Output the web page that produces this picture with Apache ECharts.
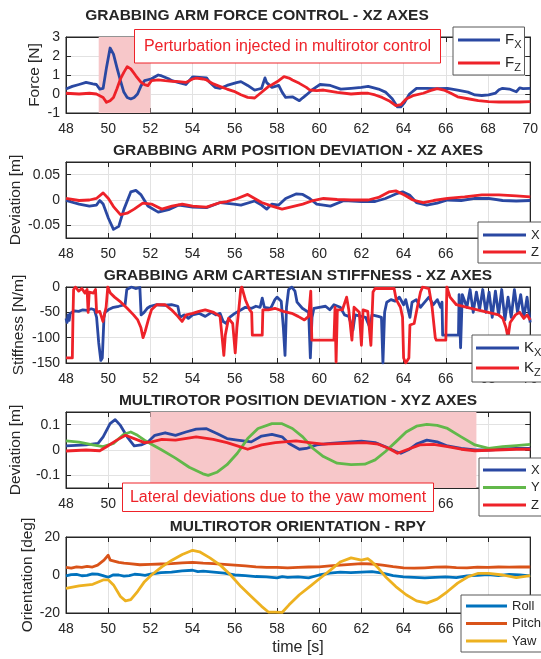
<!DOCTYPE html>
<html>
<head>
<meta charset="utf-8">
<script src="https://cdn.jsdelivr.net/npm/echarts@6/dist/echarts.min.js"></script>
<style>
  html, body { margin: 0; padding: 0; background: #ffffff; }
  #chart { width: 541px; height: 659px; }
</style>
</head>
<body>
<div id="chart"></div>
<script>
// ---- time axis (shared by all five panels) ----
const timeMin = 48;
const timeMax = 70;
const timeStep = 2;

// ---- panel 1: grabbing arm force [N] ----
const forceX = [[48.0,0.26],[48.3,0.4],[48.62,0.5],[48.95,0.61],[49.27,0.53],[49.44,0.5],[49.6,0.26],[49.76,0.3],[49.92,1.4],[50.09,2.42],[50.25,2.1],[50.41,1.4],[50.58,0.7],[50.74,0.1],[50.9,-0.18],[51.07,-0.26],[51.23,-0.18],[51.39,0],[51.56,0.44],[51.72,0.7],[51.88,0.75],[52.05,0.8],[52.37,1.0],[52.54,0.95],[52.86,0.8],[53.02,0.7],[53.35,0.6],[53.68,0.5],[54.0,0.9],[54.33,0.88],[54.66,0.85],[54.82,0.6],[55.06,0.35],[55.31,0.3],[55.63,0.45],[56.08,0.6],[56.29,0.65],[56.61,0.45],[56.94,0.2],[57.1,0.25],[57.27,0.3],[57.43,0.85],[57.51,0.6],[57.76,0.35],[58.08,0.45],[58.24,0.1],[58.41,-0.18],[58.73,-0.15],[59.06,-0.35],[59.22,-0.2],[59.39,-0.05],[59.71,0.26],[60.04,0.5],[60.53,0.45],[61.02,0.26],[61.51,0.3],[62.0,0.35],[62.32,0.4],[62.81,0.26],[63.14,0.1],[63.46,-0.25],[63.71,-0.68],[63.87,-0.68],[64.04,-0.45],[64.28,0],[64.61,0.3],[65.1,0.3],[65.59,0.28],[66.08,0.3],[66.56,0.2],[67.05,0.1],[67.38,-0.05],[67.71,-0.08],[68.03,-0.05],[68.36,0.05],[68.52,0.22],[68.69,0.3],[69.01,0.26],[69.34,0.12],[69.5,0.32],[69.66,0.28],[70.0,0.3]];
const forceZ = [[48.0,0.04],[48.62,0],[49.11,0.04],[49.44,0],[49.6,-0.09],[49.76,-0.18],[49.92,-0.44],[50.09,-0.35],[50.25,-0.18],[50.41,0.26],[50.58,0.79],[50.74,1.14],[50.9,1.44],[51.07,1.32],[51.31,0.96],[51.56,0.61],[51.72,0.49],[51.88,0.44],[52.05,0.7],[52.37,0.74],[52.7,0.7],[53.02,0.67],[53.35,0.65],[53.68,0.61],[54.0,0.79],[54.17,0.84],[54.49,0.79],[54.66,0.74],[54.98,0.53],[55.31,0.39],[55.63,0.26],[55.96,0.14],[56.29,-0.04],[56.61,-0.18],[56.94,-0.21],[57.27,0.09],[57.59,0.39],[57.76,0.49],[58.08,0.7],[58.33,0.91],[58.57,0.84],[58.73,0.74],[59.06,0.56],[59.39,0.35],[59.55,0.21],[59.88,0.18],[60.2,0.21],[60.85,0.09],[61.51,0],[62.0,0.04],[62.32,0.04],[62.65,-0.05],[62.98,-0.18],[63.3,-0.35],[63.63,-0.61],[63.87,-0.56],[64.12,-0.26],[64.44,-0.09],[64.93,0.04],[65.26,0.18],[65.59,0.28],[65.91,0.21],[66.24,0.04],[66.56,-0.15],[67.05,-0.25],[67.54,-0.35],[68.03,-0.4],[68.52,-0.42],[69.01,-0.42],[69.5,-0.42],[70.0,-0.4]];

// ---- panel 2: grabbing arm position deviation [m] ----
const armDevX = [[48.0,-0.001],[48.62,-0.008],[49.11,-0.012],[49.44,-0.01],[49.6,-0.001],[49.76,-0.008],[50.01,-0.036],[50.25,-0.058],[50.5,-0.052],[50.74,-0.019],[51.07,0.016],[51.31,0.019],[51.56,0.01],[51.88,-0.012],[52.37,-0.024],[52.86,-0.019],[53.35,-0.01],[54.0,-0.014],[54.66,-0.015],[55.31,-0.005],[55.96,-0.008],[56.29,-0.01],[56.94,-0.002],[57.27,-0.01],[57.51,-0.018],[57.76,-0.008],[58.08,-0.01],[58.41,0.003],[58.9,0.012],[59.22,0.011],[59.55,0.003],[59.88,-0.008],[60.53,-0.012],[61.18,-0.001],[62.0,-0.003],[62.65,-0.003],[63.14,0.003],[63.63,0.012],[63.95,0.016],[64.28,0.01],[64.61,-0.005],[65.1,-0.01],[65.59,-0.006],[66.08,0],[66.73,-0.001],[67.38,0.003],[68.03,0.003],[68.69,-0.001],[69.34,-0.002],[70.0,-0.001]];
const armDevZ = [[48.0,0.003],[48.62,-0.001],[49.11,0],[49.44,0.003],[49.76,0.014],[50.01,0.003],[50.25,-0.013],[50.58,-0.029],[50.9,-0.026],[51.23,-0.018],[51.64,-0.006],[52.05,-0.008],[52.54,-0.018],[53.02,-0.012],[53.51,-0.008],[54.0,-0.012],[54.66,-0.014],[55.31,-0.005],[55.63,-0.003],[56.12,0.003],[56.61,0.011],[56.94,0.003],[57.27,-0.005],[57.76,-0.012],[58.24,-0.018],[58.73,-0.013],[59.22,-0.008],[59.71,-0.001],[60.2,0.003],[60.85,0.001],[61.51,0],[62.32,0],[62.81,0.005],[63.3,0.016],[63.63,0.018],[64.04,0.01],[64.44,0],[64.93,-0.005],[65.42,-0.001],[66.08,0.003],[66.89,0.006],[67.71,0.01],[68.52,0.01],[69.34,0.008],[70.0,0.006]];

// ---- panel 3: grabbing arm Cartesian stiffness [N/m] ----
const stiffX = [[48.0,-62],[48.05,-70],[48.1,-55],[48.15,-66],[48.2,-52],[48.4,-47],[48.6,-48],[48.8,-45],[49.0,-46],[49.2,-43],[49.35,-45],[49.45,-60],[49.55,-110],[49.65,-145],[49.72,-140],[49.8,-60],[49.85,-50],[50.0,-45],[50.25,-40],[50.5,-38],[50.8,-35],[50.88,-5],[50.95,-2],[51.1,0],[51.3,-3],[51.5,-1],[51.56,-55],[51.7,-50],[51.85,-42],[52.0,-38],[52.3,-35],[52.7,-36],[53.0,-35],[53.3,-38],[53.4,-60],[53.6,-55],[53.8,-62],[54.0,-55],[54.3,-52],[54.6,-58],[54.9,-50],[55.1,-55],[55.3,-52],[55.45,-68],[55.6,-72],[55.75,-60],[56.0,-52],[56.3,-45],[56.5,-40],[56.8,-42],[57.0,-38],[57.2,-40],[57.3,-22],[57.4,-40],[57.7,-42],[57.9,-25],[58.0,-20],[58.2,-28],[58.3,-80],[58.38,-135],[58.45,-40],[58.55,-5],[58.7,0],[58.85,-8],[58.95,-30],[59.2,-42],[59.5,-50],[59.58,-140],[59.66,-60],[59.75,-42],[60.0,-40],[60.3,-38],[60.5,-45],[60.7,-35],[61.0,-40],[61.2,-55],[61.4,-58],[61.6,-85],[61.7,-55],[62.0,-58],[62.2,-60],[62.4,-80],[62.5,-55],[62.8,-58],[62.95,-60],[63.02,-150],[63.1,-50],[63.2,-30],[63.4,-25],[63.6,-28],[63.8,-20],[64.0,-35],[64.1,-25],[64.3,-60],[64.4,-30],[64.6,-25],[64.8,-40],[65.0,-30],[65.2,-20],[65.4,-35],[65.6,-25],[65.75,-40],[65.82,-30],[65.85,-95],[66.6,-95],[66.63,-15],[66.7,-120],[66.78,-15],[67.0,-40],[67.15,-5],[67.3,-50],[67.45,-10],[67.6,-45],[67.75,-5],[67.9,-50],[68.05,-10],[68.2,-60],[68.35,-8],[68.5,-55],[68.65,-5],[68.8,-65],[68.95,-20],[69.1,-60],[69.25,-5],[69.4,-50],[69.55,-15],[69.7,-60],[69.85,-20],[70.0,-70]];
const stiffZ = [[48.0,-140],[48.3,-140],[48.33,-60],[48.36,-5],[48.45,0],[48.6,-8],[48.75,-3],[48.9,-12],[49.0,-5],[49.05,-50],[49.1,-10],[49.3,-12],[49.4,-5],[49.45,-50],[49.6,-48],[49.75,-68],[49.9,-40],[49.98,0],[50.1,-12],[50.3,-20],[50.6,-30],[50.9,-42],[51.2,-55],[51.4,-65],[51.55,-80],[51.65,-100],[51.75,-88],[51.9,-65],[52.05,-45],[52.3,-35],[52.7,-35],[53.0,-45],[53.3,-58],[53.5,-68],[53.7,-55],[54.0,-52],[54.3,-48],[54.6,-45],[55.0,-50],[55.3,-58],[55.4,-100],[55.48,-135],[55.55,-95],[55.7,-62],[55.9,-72],[56.02,-130],[56.1,-80],[56.2,-40],[56.28,-5],[56.33,0],[56.5,-25],[56.7,-45],[56.8,-50],[56.83,-95],[57.3,-95],[57.33,-45],[57.6,-45],[57.9,-42],[58.3,-48],[58.7,-52],[59.0,-58],[59.3,-65],[59.5,-58],[59.6,-8],[59.65,-105],[60.7,-105],[60.75,-40],[60.8,-148],[60.86,-45],[61.1,-45],[61.3,-20],[61.4,-45],[61.55,-105],[61.65,-40],[61.9,-50],[62.0,-115],[62.08,-45],[62.3,-48],[62.45,-115],[62.55,-10],[62.65,-3],[63.55,-3],[63.65,-25],[63.85,-40],[63.95,-60],[64.0,-140],[64.1,-150],[64.25,-140],[64.3,-75],[64.5,-72],[64.65,-40],[64.8,-10],[64.9,0],[65.2,-3],[65.35,-40],[65.5,-100],[65.55,-105],[66.0,-105],[66.05,0],[66.2,-20],[66.5,-35],[67.0,-40],[67.5,-45],[68.0,-50],[68.5,-55],[68.7,-62],[68.85,-80],[68.95,-100],[69.05,-70],[69.3,-55],[69.5,-50],[69.7,-62],[69.85,-55],[70.0,-65]];

// ---- panel 4: multirotor position deviation [m] ----
const droneX = [[48.0,0.016],[48.95,0.02],[49.52,0.026],[49.76,0.052],[50.09,0.104],[50.33,0.12],[50.58,0.097],[50.9,0.052],[51.23,0.016],[51.56,0.02],[51.88,0.032],[52.21,0.058],[52.7,0.068],[53.19,0.058],[53.68,0.071],[54.17,0.082],[54.66,0.084],[55.15,0.065],[55.63,0.045],[56.12,0.039],[56.78,0.032],[57.27,0.055],[57.76,0.062],[58.24,0.052],[58.57,0.026],[59.06,0.003],[59.39,0.006],[59.88,0.02],[60.53,0.026],[61.18,0.03],[62.0,0.035],[62.65,0.029],[63.14,0.013],[63.63,-0.006],[63.87,-0.013],[64.28,0.003],[64.61,0.023],[65.1,0.039],[65.59,0.032],[66.08,0.016],[66.73,0.006],[67.38,0],[68.03,0],[68.69,0.004],[69.34,0.006],[70.0,0.006]];
const droneY = [[48.0,0.036],[48.62,0.031],[49.27,0.02],[49.76,0.013],[50.25,0.026],[50.74,0.062],[51.07,0.071],[51.39,0.058],[51.72,0.039],[52.05,0.023],[52.54,0],[53.19,-0.032],[53.84,-0.068],[54.49,-0.094],[54.74,-0.1],[55.15,-0.088],[55.63,-0.058],[56.12,-0.013],[56.61,0.045],[57.1,0.085],[57.76,0.104],[58.24,0.104],[58.73,0.085],[59.22,0.052],[59.71,0.006],[60.2,-0.026],[60.85,-0.052],[61.51,-0.058],[62.16,-0.056],[62.65,-0.039],[63.14,-0.006],[63.63,0.032],[64.12,0.071],[64.61,0.094],[65.1,0.101],[65.59,0.097],[66.08,0.085],[66.73,0.052],[67.38,0.02],[68.03,0.006],[68.69,0.013],[69.34,0.017],[70.0,0.022]];
const droneZ = [[48.0,-0.004],[48.95,0],[49.6,-0.003],[49.92,0.013],[50.41,0.039],[50.82,0.058],[51.23,0.045],[51.72,0.029],[52.05,0.032],[52.54,0.042],[53.19,0.039],[54.17,0.052],[54.98,0.042],[55.63,0.029],[56.12,0.016],[56.61,0.003],[57.27,0.02],[57.92,0.029],[58.9,0.036],[59.55,0.029],[60.2,0.023],[61.18,0.026],[62.16,0.029],[62.81,0.023],[63.3,0.006],[63.71,-0.013],[64.12,0],[64.77,0.02],[65.42,0.022],[66.08,0.013],[66.73,0.003],[67.38,-0.003],[68.36,0],[69.34,0.003],[70.0,0.003]];

// ---- panel 5: multirotor orientation [deg] ----
const roll = [[48.0,-0.5],[48.25,0.2],[48.5,0.3],[48.75,-0.4],[49.0,-0.2],[49.25,0.6],[49.5,0.5],[49.75,-0.3],[50.0,-1.2],[50.25,0.1],[50.5,0],[50.75,-0.6],[51.0,-0.3],[51.25,0.4],[51.5,0.2],[51.75,-0.2],[52.0,0.5],[52.5,1.2],[53.0,1.5],[53.5,2.2],[54.0,2.5],[54.25,1.8],[54.5,2.0],[55.0,1.5],[55.5,1.0],[56.0,0],[56.5,-0.3],[57.0,-0.8],[57.5,-1.0],[58.0,-1.5],[58.25,-0.9],[58.5,-1.2],[59.0,-1.0],[59.5,-1.5],[60.0,0],[60.5,1.0],[61.0,1.5],[61.5,1.2],[62.0,1.5],[62.5,1.8],[63.0,1.0],[63.5,-0.3],[64.0,-1.0],[64.5,-1.3],[65.0,-1.5],[65.5,-1.2],[66.0,-1.0],[66.5,-1.4],[67.0,-0.5],[67.5,-0.2],[68.0,0.2],[68.5,-0.3],[69.0,0.3],[69.5,0],[70.0,-0.5]];
const pitch = [[48.0,4.0],[48.25,3.6],[48.5,4.3],[48.75,4.0],[49.0,4.5],[49.25,4.2],[49.5,5.2],[49.8,7.8],[50.0,10.4],[50.1,7.8],[50.5,6.6],[50.75,6.2],[51.0,6.0],[51.5,5.4],[52.0,5.6],[52.5,5.8],[53.0,6.0],[53.5,6.4],[54.0,6.6],[54.5,6.2],[55.0,6.0],[55.5,5.6],[56.0,5.2],[56.5,4.8],[57.0,4.3],[57.5,4.0],[58.0,4.0],[58.5,3.7],[59.0,4.0],[59.5,4.2],[60.0,4.3],[60.5,4.8],[61.0,5.2],[61.5,5.6],[62.0,6.0],[62.5,5.8],[63.0,5.2],[63.5,4.4],[64.0,3.8],[64.5,3.6],[65.0,3.8],[65.5,4.1],[66.0,4.3],[66.5,3.9],[67.0,3.8],[67.5,4.1],[68.0,4.0],[68.5,4.2],[69.0,4.1],[69.5,4.3],[70.0,4.2]];
const yaw = [[48.0,-7.0],[48.62,-5.7],[49.27,-4.9],[49.76,-2.6],[50.01,-2.6],[50.25,-5.2],[50.58,-11.3],[50.82,-13.6],[51.07,-13.0],[51.39,-8.7],[51.72,-3.5],[52.05,0],[52.54,4.3],[53.02,7.8],[53.51,10.8],[54.0,13.0],[54.33,12.2],[54.82,9.0],[55.31,5.2],[55.8,0],[56.29,-6.1],[56.78,-11.3],[57.27,-16.5],[57.59,-19.5],[57.92,-19.5],[58.24,-19.7],[58.57,-15.7],[59.06,-10.4],[59.55,-6.1],[60.04,-1.7],[60.53,2.6],[61.02,7.0],[61.51,9.0],[62.0,7.8],[62.3,8.6],[62.49,7.0],[62.81,3.5],[63.14,-0.9],[63.63,-6.1],[64.12,-10.4],[64.61,-13.6],[65.1,-14.8],[65.59,-12.7],[66.08,-8.7],[66.56,-4.3],[67.05,-0.9],[67.54,0.9],[68.03,0.9],[68.69,0],[69.34,-1.4],[70.0,-0.3]];

// ---- highlighted time windows [s] ----
const perturbationWindow = [49.55, 52.0];
const yawMomentWindow = [52.0, 67.45];

// ---- y axis ticks ----
const forceTicks = [-1, 0, 1, 2, 3];
const armDevTicks = [-0.05, 0, 0.05];
const stiffTicks = [-150, -100, -50, 0];
const droneDevTicks = [-0.1, 0, 0.1];
const orientTicks = [-20, 0, 20];

// ---- styling ----
const FONT = "'Liberation Sans', Arial, Helvetica, sans-serif";
const INK = '#262626';
const GRID_LINE = '#e2e2e2';
const BLUE = '#2a48a2';
const RED = '#ee2229';
const GREEN = '#62b84a';
const ROLL_C = '#0072bd';
const PITCH_C = '#d95319';
const YAW_C = '#edb120';
const SHADE = '#f7c7c9';
const TRACE_WIDTH = 2.8;

const panelTops = [37, 162, 287, 412, 537];
const panelHeight = 76;

const panels = [
  { min: -1, max: 3, ticks: forceTicks, interval: 1, title: 'GRABBING ARM FORCE CONTROL - XZ AXES', titleX: 257, titleY: 15.5, yName: 'Force [N]', yNameX: 35 },
  { min: -0.075, max: 0.075, ticks: armDevTicks, title: 'GRABBING ARM POSITION DEVIATION - XZ AXES', titleX: 298, titleY: 150.7, yName: 'Deviation [m]', yNameX: 16 },
  { min: -150, max: 0, ticks: stiffTicks, interval: 50, title: 'GRABBING ARM CARTESIAN STIFFNESS - XZ AXES', titleX: 298, titleY: 275.8, yName: 'Stiffness [N/m]', yNameX: 19 },
  { min: -0.15, max: 0.15, ticks: droneDevTicks, title: 'MULTIROTOR POSITION DEVIATION - XYZ AXES', titleX: 298, titleY: 401.2, yName: 'Deviation [m]', yNameX: 16 },
  { min: -20, max: 20, ticks: orientTicks, interval: 20, title: 'MULTIROTOR ORIENTATION - RPY', titleX: 298, titleY: 526.3, yName: 'Orientation [deg]', yNameX: 28 }
];

const grids = panelTops.map(t => ({ left: 66, right: 10, top: t, height: panelHeight, show: true, borderColor: INK, borderWidth: 1, backgroundColor: 'transparent' }));

const xAxes = [];
const yAxes = [];
panels.forEach((p, i) => {
  [false, true].forEach(mirror => {
    xAxes.push({
      type: 'value', gridIndex: i, min: timeMin, max: timeMax, interval: timeStep,
      position: mirror ? 'top' : 'bottom',
      axisLine: { show: true, onZero: false, lineStyle: { color: INK, width: 1 } },
      axisTick: { show: true, inside: true, length: 5, lineStyle: { color: INK, width: 1 } },
      axisLabel: { show: !mirror, fontSize: 14, color: INK, fontFamily: FONT, margin: 9 },
      splitLine: { show: !mirror, lineStyle: { color: GRID_LINE, width: 1 } }
    });
    const y = {
      type: 'value', gridIndex: i, min: p.min, max: p.max,
      position: mirror ? 'right' : 'left',
      axisLine: { show: true, onZero: false, lineStyle: { color: INK, width: 1 } },
      axisTick: { show: true, inside: true, length: 5, lineStyle: { color: INK, width: 1 } },
      axisLabel: { show: !mirror, fontSize: 14, color: INK, fontFamily: FONT, margin: 6 },
      splitLine: { show: !mirror, lineStyle: { color: GRID_LINE, width: 1 } }
    };
    if (p.interval) {
      y.interval = p.interval;
    } else {
      y.axisTick.customValues = p.ticks;
      y.axisLabel.customValues = p.ticks;
      y.splitLine.customValues = p.ticks;
    }
    yAxes.push(y);
  });
});

function trace(name, panel, data, color) {
  return {
    name, type: 'line', xAxisIndex: panel * 2, yAxisIndex: panel * 2,
    data, color, showSymbol: false, symbol: 'none', z: 3,
    lineStyle: { color, width: TRACE_WIDTH, join: 'round' }, itemStyle: { color },
    animation: false
  };
}

function band(panel, range) {
  return {
    type: 'line', xAxisIndex: panel * 2, yAxisIndex: panel * 2, data: [], z: 1, silent: true,
    markArea: { silent: true, itemStyle: { color: SHADE }, data: [[{ xAxis: range[0] }, { xAxis: range[1] }]] },
    animation: false
  };
}

const series = [
  band(0, perturbationWindow),
  band(3, yawMomentWindow),
  trace('Fx', 0, forceX, BLUE),
  trace('Fz', 0, forceZ, RED),
  trace('armX', 1, armDevX, BLUE),
  trace('armZ', 1, armDevZ, RED),
  trace('Kx', 2, stiffX, BLUE),
  trace('Kz', 2, stiffZ, RED),
  trace('mrX', 3, droneX, BLUE),
  trace('mrY', 3, droneY, GREEN),
  trace('mrZ', 3, droneZ, RED),
  trace('Roll', 4, roll, ROLL_C),
  trace('Pitch', 4, pitch, PITCH_C),
  trace('Yaw', 4, yaw, YAW_C)
];

const legendLabels = {
  Fx: '{m|F}{s|X}', Fz: '{m|F}{s|Z}',
  armX: 'X', armZ: 'Z',
  Kx: '{m|K}{s|X}', Kz: '{m|K}{s|Z}',
  mrX: 'X', mrY: 'Y', mrZ: 'Z',
  Roll: 'Roll', Pitch: 'Pitch', Yaw: 'Yaw'
};

function legendBox(names, left, top, padding, gap, lineLen, lineHeight) {
  return {
    data: names, left, top, orient: 'vertical', padding, itemGap: gap,
    itemWidth: lineLen, itemHeight: 3, icon: 'rect', selectedMode: false,
    backgroundColor: '#ffffff', borderColor: '#595959', borderWidth: 1, borderRadius: 0,
    formatter: n => legendLabels[n],
    textStyle: {
      color: INK, fontSize: 13, fontFamily: FONT, lineHeight,
      rich: {
        m: { fontSize: 15, lineHeight: 20, color: INK, fontFamily: FONT },
        s: { fontSize: 11, lineHeight: 11, verticalAlign: 'bottom', color: INK, fontFamily: FONT }
      }
    }
  };
}

const legends = [
  legendBox(['Fx', 'Fz'], 453, 27, [3, 3, 2, 5], 3, 42, 20),
  legendBox(['armX', 'armZ'], 478, 222, [5, 4, 3, 5], 1, 43, 16),
  legendBox(['Kx', 'Kz'], 472, 335, [3, 4, 4, 4], 0, 43, 20),
  legendBox(['mrX', 'mrY', 'mrZ'], 479, 458, [4, 4, 3, 4], 1.5, 43, 16),
  legendBox(['Roll', 'Pitch', 'Yaw'], 461, 595, [3, 4, 3, 5], 1.5, 41, 16)
];

function label(text, x, y, size, opts) {
  return Object.assign({
    type: 'text', x, y, z: 100, silent: true,
    style: {
      text, fill: INK, fontSize: size, fontFamily: FONT, fontWeight: 'normal',
      textAlign: 'center', align: 'center', textVerticalAlign: 'middle', verticalAlign: 'middle'
    }
  }, opts || {});
}

function noteBox(text, x, y, w, h) {
  return {
    type: 'group', z: 100, silent: true,
    children: [
      { type: 'rect', z: 100, shape: { x, y, width: w, height: h }, style: { fill: '#ffffff', stroke: RED, lineWidth: 1 } },
      label(text, x + w / 2, y + h / 2 + 0.5, 16, { style: { text, fill: RED, fontSize: 16, fontFamily: FONT, textAlign: 'center', align: 'center', textVerticalAlign: 'middle', verticalAlign: 'middle' } })
    ]
  };
}

const graphics = [];
panels.forEach((p, i) => {
  const t = label(p.title, p.titleX, p.titleY, 15.5);
  t.style.fontWeight = 'bold';
  graphics.push(t);
  graphics.push(label(p.yName, p.yNameX, panelTops[i] + panelHeight / 2, 15.5, { rotation: Math.PI / 2 }));
});
graphics.push(label('time [s]', 298, 648, 16));
graphics.push(noteBox('Perturbation injected in multirotor control', 134.5, 29.5, 306, 33.5));
graphics.push(noteBox('Lateral deviations due to the yaw moment', 122.5, 483, 311, 28.5));

const chart = echarts.init(document.getElementById('chart'), null, { renderer: 'canvas' });
chart.setOption({
  animation: false,
  backgroundColor: '#ffffff',
  textStyle: { fontFamily: FONT },
  grid: grids,
  xAxis: xAxes,
  yAxis: yAxes,
  legend: legends,
  series,
  graphic: graphics
});
</script>
</body>
</html>
